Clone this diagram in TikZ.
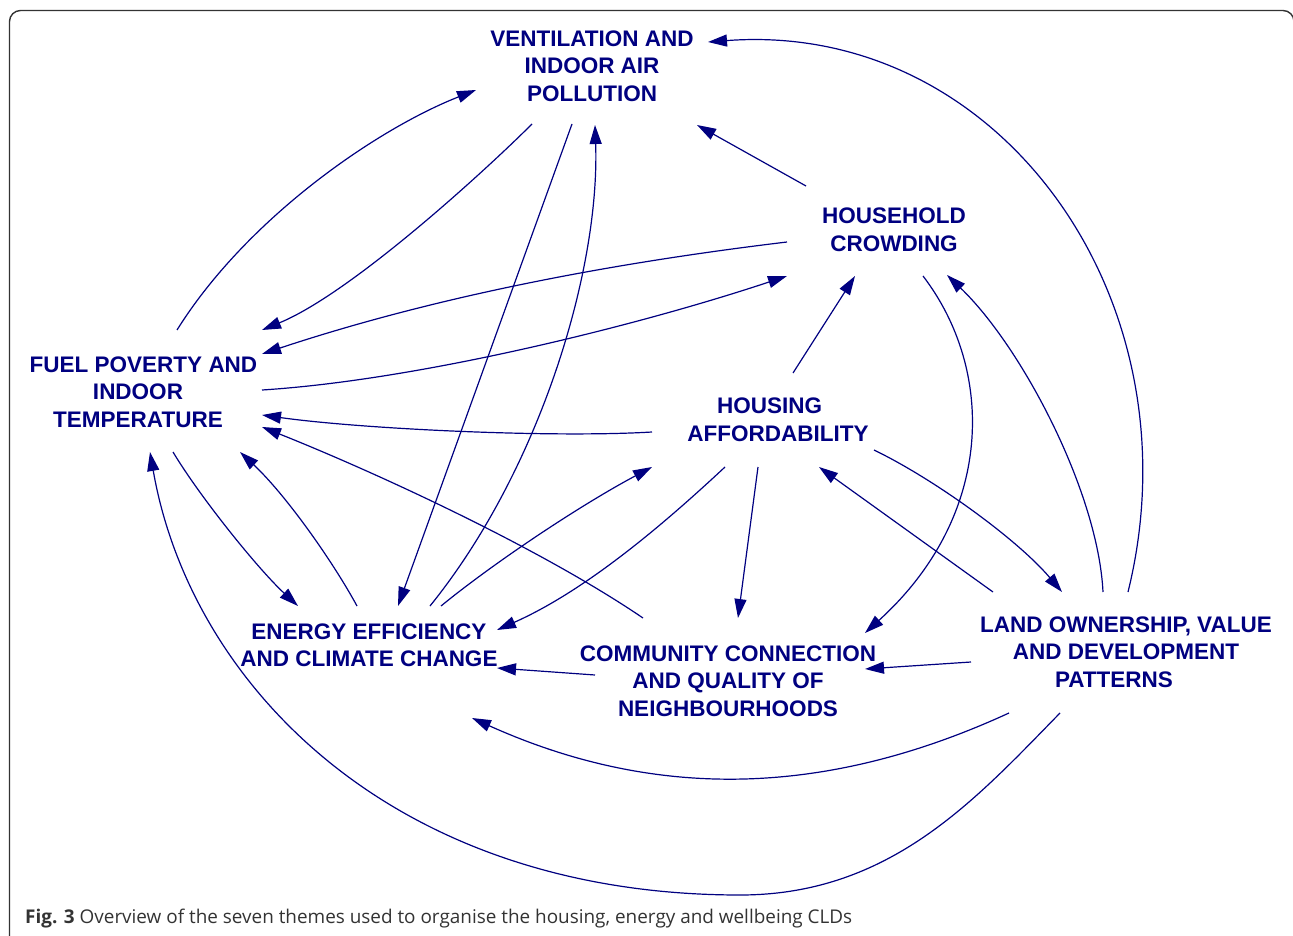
\documentclass[tikz,border=0pt]{standalone}
\usepackage{fontspec}
\usetikzlibrary{arrows.meta,calc}
\newfontfamily\arialfont{Liberation Sans}
\newfontfamily\capfont{Open Sans}
\definecolor{cldnavy}{RGB}{0,0,128}
\definecolor{framegray}{RGB}{51,51,51}
\tikzset{
  theme/.style={text=cldnavy, font=\arialfont\bfseries\fontsize{22.5}{27.5}\selectfont, align=center, inner sep=0pt},
  link/.style={draw=cldnavy, line width=1.2pt, -{Triangle[length=19pt,width=12pt]}},
}
\begin{document}
\begin{tikzpicture}[x=1pt,y=-1pt]
\useasboundingbox (0,0) rectangle (1293,936);
\draw[framegray, line width=1.4pt, rounded corners=11pt] (9.5,940) -- (9.5,10.5) -- (1294,10.5) -- (1294,940);

\node[theme] (V)  at (592,66)  {VENTILATION AND\\INDOOR AIR\\POLLUTION};
\node[theme] (HC) at (894,230) {HOUSEHOLD\\CROWDING};
\node[theme] (FP) at (138,392) {\hspace*{11pt}FUEL POVERTY AND\\INDOOR\hspace*{20pt}\\TEMPERATURE};
\node[theme] (HA) at (778,420) {HOUSING\hspace*{17pt}\\AFFORDABILITY};
\node[theme] (EE) at (369,645) {ENERGY EFFICIENCY\\AND CLIMATE CHANGE};
\node[theme] (CC) at (728,681) {COMMUNITY CONNECTION\\AND QUALITY OF\\NEIGHBOURHOODS};
\node[theme] (L)  at (1126,652) {LAND OWNERSHIP, VALUE\\AND DEVELOPMENT\hspace*{12pt}\\PATTERNS\hspace*{24pt}};

% connectors
\draw[link] ($(FP)+(39,-62)$) .. controls (247,218) and (377,129) .. ($(V)+(-116,24)$);
\draw[link] ($(V)+(-60,58)$) .. controls (487,169) and (352,293) .. ($(FP)+(124,-62)$);
\draw[link] ($(V)+(-20,58)$) -- ($(EE)+(29,-39)$);
\draw[link] ($(EE)+(61,-39)$) .. controls (540,470) and (600,270) .. ($(V)+(3,59)$);
\draw[link] ($(HC)+(-88,-44)$) -- ($(V)+(105,59)$);
\draw[link] ($(HC)+(-107,12)$) .. controls (612,263) and (437,296) .. ($(FP)+(124,-38)$);
\draw[link] ($(FP)+(124,-2)$) .. controls (420,380) and (640,325) .. ($(HC)+(-107,46)$);
\draw[link] ($(HA)+(-126,12)$) .. controls (552,438) and (362,429) .. ($(FP)+(124,23)$);
\draw[link] ($(CC)+(-85,-63)$) .. controls (543,550) and (382,475) .. ($(FP)+(124,35)$);
\draw[link] ($(FP)+(35,60)$) .. controls (200,497) and (258,569) .. ($(EE)+(-71,-39)$);
\draw[link] ($(EE)+(-12,-39)$) .. controls (332,560) and (285,494) .. ($(FP)+(102,60)$);
\draw[link] ($(L)+(-66,61)$) .. controls (975,800) and (890,895) .. (740,895) .. controls (390,895) and (190,682) .. ($(FP)+(12,60)$);
\draw[link] ($(L)+(-117,61)$) .. controls (822,799) and (652,799) .. ($(EE)+(103,73)$);
\draw[link] ($(CC)+(-133,-6)$) -- ($(EE)+(128,23)$);
\draw[link] ($(L)+(-155,10)$) -- ($(CC)+(137,-12)$);
\draw[link] ($(HA)+(-53,47)$) .. controls (665,523) and (587,590) .. ($(EE)+(128,-15)$);
\draw[link] ($(EE)+(72,-39)$) .. controls (491,565) and (577,507) .. ($(HA)+(-126,47)$);
\draw[link] ($(HA)+(-20,47)$) -- ($(CC)+(10,-63)$);
\draw[link] ($(HA)+(15,-47)$) -- ($(HC)+(-39,46)$);
\draw[link] ($(HC)+(29,46)$) .. controls (995,370) and (995,515) .. ($(CC)+(137,-48)$);
\draw[link] ($(L)+(-23,-60)$) .. controls (1098,492) and (1022,347) .. ($(HC)+(53,45)$);
\draw[link] ($(L)+(2,-60)$) .. controls (1200,300) and (1000,20) .. ($(V)+(116,-24)$);
\draw[link] ($(L)+(-133,-60)$) -- ($(HA)+(41,47)$);
\draw[link] ($(HA)+(96,30)$) .. controls (934,479) and (1017,539) .. ($(L)+(-64,-60)$);

\node[anchor=base west, inner sep=0pt, text=framegray] (cap) at (25,923)
  {\resizebox{827pt}{!}{\capfont\fontsize{16}{19}\selectfont{\bfseries Fig. 3} Overview of the seven themes used to organise the housing, energy and wellbeing CLDs}};
\end{tikzpicture}
\end{document}
